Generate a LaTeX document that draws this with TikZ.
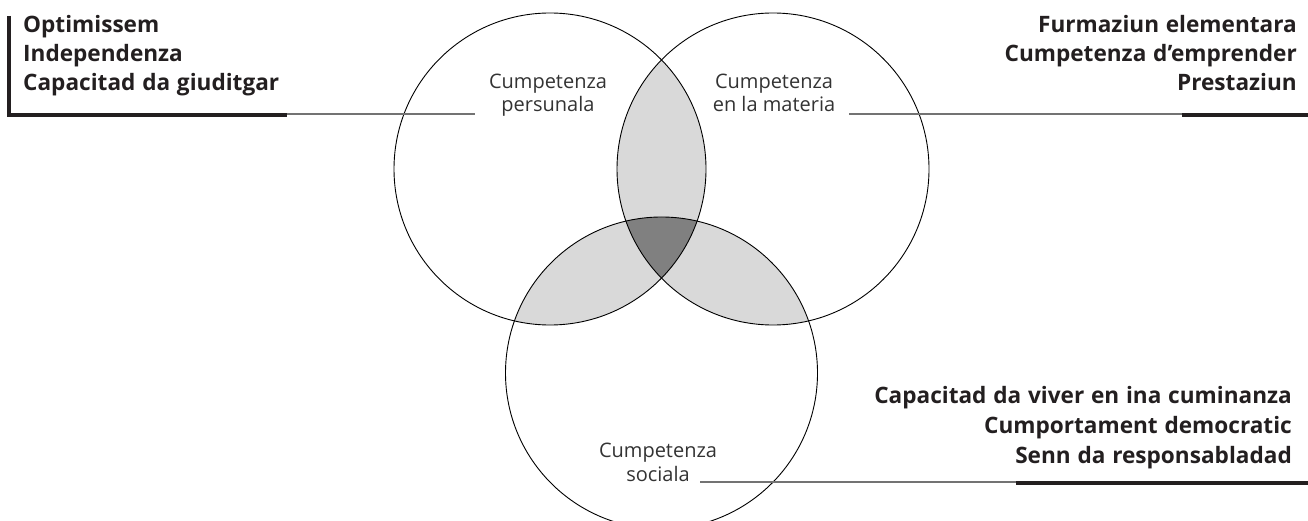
\documentclass[tikz,border=0pt]{standalone}
\usepackage{fontspec}
\setmainfont{Open Sans}
\definecolor{lite}{HTML}{D9D9D9}
\definecolor{deep}{HTML}{808080}
\definecolor{ink}{HTML}{231F20}
\newcommand\widewords{\spaceskip=0.3em plus 0.1em\relax}
\begin{document}
\begin{tikzpicture}[x=1pt,y=-1pt,
  boldtxt/.style={font=\fontsize{22.6}{26}\selectfont\bfseries\widewords, inner sep=0pt, text=ink},
  labtxt/.style={font=\fontsize{20}{24}\selectfont, inner sep=0pt, text=black!80},
  ring/.style={draw=black, line width=0.9pt},
  lead/.style={draw=black!55, line width=1.3pt},
  thickbar/.style={draw=ink, line width=3.6pt}]
\useasboundingbox (0,0) rectangle (1308,521);
\clip (0,0) rectangle (1308,521);
\coordinate (L) at (550,169);
\coordinate (R) at (773,169);
\coordinate (B) at (661.5,373);
% fills: pairwise overlaps
\begin{scope}
  \clip (L) circle (156pt);
  \fill[lite] (R) circle (156pt);
  \fill[lite] (B) circle (156pt);
\end{scope}
\begin{scope}
  \clip (R) circle (156pt);
  \fill[lite] (B) circle (156pt);
\end{scope}
% triple overlap
\begin{scope}
  \clip (L) circle (156pt);
  \clip (R) circle (156pt);
  \fill[deep] (B) circle (156pt);
\end{scope}
% circles
\draw[ring] (L) circle (156pt);
\draw[ring] (R) circle (156pt);
\draw[ring] (B) circle (156pt);
% inner labels
\node[labtxt, anchor=base] (p1) at (548,89) {Cumpetenza};
\node[labtxt, anchor=base] (p2) at (548,112) {persunala};
\node[labtxt, anchor=base] (m1) at (774,89) {Cumpetenza};
\node[labtxt, anchor=base] (m2) at (774,112) {en la materia};
\node[labtxt, anchor=base] (s1) at (658,457) {Cumpetenza};
\node[labtxt, anchor=base] (s2) at (658,481) {sociala};
% top-left block
\node[boldtxt, anchor=base west] (tl1) at (23,33) {Optimissem};
\node[boldtxt, anchor=base west] (tl2) at (23,62) {Independenza};
\node[boldtxt, anchor=base west] (tl3) at (23,91) {Capacitad da giuditgar};
% top-right block
\node[boldtxt, anchor=base east] (tr1) at (1297,33) {Furmaziun elementara};
\node[boldtxt, anchor=base east] (tr2) at (1297,62) {Cumpetenza d’emprender};
\node[boldtxt, anchor=base east] (tr3) at (1297,91) {Prestaziun};
% bottom-right block
\node[boldtxt, anchor=base east] (br1) at (1292,403) {Capacitad da viver en ina cuminanza};
\node[boldtxt, anchor=base east] (br2) at (1292,433) {Cumportament democratic};
\node[boldtxt, anchor=base east] (br3) at (1292,463) {Senn da responsabladad};
% leader coordinates
\coordinate (tlTop) at (9,16);
\coordinate (tlCorner) at (9,115);
\coordinate (tlBarEnd) at (287,115);
\coordinate (tlEnd) at (475,114);
\coordinate (trBarStart) at (1182,115);
\coordinate (trBarEnd) at (1308,115);
\coordinate (trEnd) at (849,114);
\coordinate (brBarStart) at (1016,483);
\coordinate (brBarEnd) at (1308,483);
\coordinate (brEnd) at (700,482);
% leaders
\draw[lead] (tlBarEnd |- tlEnd) -- (tlEnd);
\draw[lead] (trEnd) -- (trBarStart |- trEnd);
\draw[lead] (brEnd) -- (brBarStart |- brEnd);
% bars
\draw[thickbar, line join=miter] (tlTop) -- (tlCorner) -- (tlBarEnd);
\draw[thickbar] (trBarStart) -- (trBarEnd);
\draw[thickbar] (brBarStart) -- (brBarEnd);
\end{tikzpicture}
\end{document}
